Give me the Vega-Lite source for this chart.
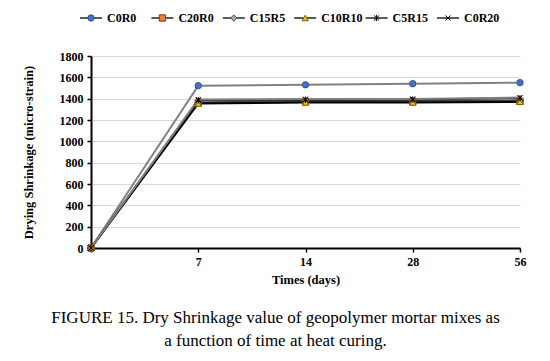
{
  "$schema": "https://vega.github.io/schema/vega-lite/v6.json",
  "padding": {"left": 22, "top": 12, "right": 5, "bottom": 5},
  "background": "white",
  "spacing": 26,
  "config": {
    "font": "Liberation Serif",
    "view": {"stroke": null},
    "axis": {
      "labelFont": "Liberation Serif",
      "titleFont": "Liberation Serif",
      "labelFontWeight": "bold",
      "titleFontWeight": "bold",
      "labelFontSize": 12,
      "titleFontSize": 12.5,
      "labelColor": "#000000",
      "titleColor": "#000000",
      "domainColor": "#000000",
      "tickColor": "#000000",
      "domainWidth": 2,
      "tickWidth": 1.5,
      "tickSize": 4
    }
  },
  "datasets": {
    "mixes": [
      {"mix": "C0R0"}, {"mix": "C20R0"}, {"mix": "C15R5"}, {"mix": "C10R10"}, {"mix": "C5R15"}, {"mix": "C0R20"}
    ],
    "shrink": [
      {"mix": "C0R0", "day": "0", "value": 0},
      {"mix": "C0R0", "day": "7", "value": 1522},
      {"mix": "C0R0", "day": "14", "value": 1530},
      {"mix": "C0R0", "day": "28", "value": 1540},
      {"mix": "C0R0", "day": "56", "value": 1550},
      {"mix": "C20R0", "day": "0", "value": 0},
      {"mix": "C20R0", "day": "7", "value": 1360},
      {"mix": "C20R0", "day": "14", "value": 1370},
      {"mix": "C20R0", "day": "28", "value": 1370},
      {"mix": "C20R0", "day": "56", "value": 1375},
      {"mix": "C15R5", "day": "0", "value": 0},
      {"mix": "C15R5", "day": "7", "value": 1365},
      {"mix": "C15R5", "day": "14", "value": 1378},
      {"mix": "C15R5", "day": "28", "value": 1378},
      {"mix": "C15R5", "day": "56", "value": 1382},
      {"mix": "C10R10", "day": "0", "value": 0},
      {"mix": "C10R10", "day": "7", "value": 1355},
      {"mix": "C10R10", "day": "14", "value": 1365},
      {"mix": "C10R10", "day": "28", "value": 1365},
      {"mix": "C10R10", "day": "56", "value": 1370},
      {"mix": "C5R15", "day": "0", "value": 0},
      {"mix": "C5R15", "day": "7", "value": 1385},
      {"mix": "C5R15", "day": "14", "value": 1390},
      {"mix": "C5R15", "day": "28", "value": 1392},
      {"mix": "C5R15", "day": "56", "value": 1405},
      {"mix": "C0R20", "day": "0", "value": 0},
      {"mix": "C0R20", "day": "7", "value": 1392},
      {"mix": "C0R20", "day": "14", "value": 1396},
      {"mix": "C0R20", "day": "28", "value": 1398},
      {"mix": "C0R20", "day": "56", "value": 1410}
    ]
  },
  "vconcat": [
    {
      "width": 357,
      "height": 12,
      "data": {"name": "mixes"},
      "encoding": {
        "x": {
          "field": "mix",
          "type": "nominal",
          "sort": ["C0R0", "C20R0", "C15R5", "C10R10", "C5R15", "C0R20"],
          "scale": {"type": "point", "padding": 0},
          "axis": null
        }
      },
      "layer": [
        {
          "mark": {"type": "point", "shape": "M-1,0L1,0", "size": 484, "stroke": "#000000", "strokeWidth": 1.3, "filled": false, "opacity": 1}
        },
        {
          "mark": {"type": "point", "filled": true, "size": 40, "strokeWidth": 1, "opacity": 1},
          "encoding": {
            "shape": {
              "field": "mix",
              "type": "nominal",
              "legend": null,
              "scale": {
                "domain": ["C0R0", "C20R0", "C15R5", "C10R10", "C5R15", "C0R20"],
                "range": ["circle", "square", "diamond", "triangle-up", "M-0.8,-0.8L0.8,0.8M-0.8,0.8L0.8,-0.8M0,-1L0,1", "M-0.8,-0.8L0.8,0.8M-0.8,0.8L0.8,-0.8"]
              }
            },
            "fill": {
              "field": "mix",
              "type": "nominal",
              "legend": null,
              "scale": {
                "domain": ["C0R0", "C20R0", "C15R5", "C10R10", "C5R15", "C0R20"],
                "range": ["#4472c4", "#ed7d31", "#a5a5a5", "#ffc000", "#000000", "#000000"]
              }
            },
            "stroke": {
              "field": "mix",
              "type": "nominal",
              "legend": null,
              "scale": {
                "domain": ["C0R0", "C20R0", "C15R5", "C10R10", "C5R15", "C0R20"],
                "range": ["#2f528f", "#843c0c", "#595959", "#7f6000", "#000000", "#000000"]
              }
            }
          }
        },
        {
          "mark": {"type": "text", "align": "left", "baseline": "middle", "dx": 16, "font": "Liberation Serif", "fontWeight": "bold", "fontSize": 12, "color": "#000000"},
          "encoding": {"text": {"field": "mix", "type": "nominal"}}
        }
      ]
    },
    {
      "width": 429,
      "height": 192,
      "title": {
        "text": ["FIGURE 15. Dry Shrinkage value of geopolymer mortar mixes as", "a function of time at heat curing."],
        "orient": "bottom",
        "anchor": "middle",
        "font": "Liberation Serif",
        "fontSize": 17,
        "fontWeight": "normal",
        "color": "#000000",
        "lineHeight": 23,
        "offset": 24,
        "dx": -30
      },
      "data": {"name": "shrink"},
      "encoding": {
        "x": {
          "field": "day",
          "type": "ordinal",
          "sort": ["0", "7", "14", "28", "56"],
          "scale": {"type": "point", "padding": 0},
          "axis": {
            "title": "Times (days)",
            "labelAngle": 0,
            "labelExpr": "datum.label == '0' ? '' : datum.label",
            "labelPadding": 4,
            "titlePadding": 6,
            "grid": false
          }
        },
        "y": {
          "field": "value",
          "type": "quantitative",
          "scale": {"domain": [0, 1800], "nice": false},
          "axis": {
            "title": "Drying Shrinkage (micro-strain)",
            "values": [0, 200, 400, 600, 800, 1000, 1200, 1400, 1600, 1800],
            "format": "d",
            "grid": true,
            "gridColor": "#d9d9d9",
            "gridWidth": 1,
            "labelPadding": 4,
            "titlePadding": 24
          }
        }
      },
      "layer": [
        {
          "mark": {"type": "line", "strokeWidth": 2},
          "encoding": {
            "color": {
              "field": "mix",
              "type": "nominal",
              "legend": null,
              "scale": {
                "domain": ["C0R0", "C20R0", "C15R5", "C10R10", "C5R15", "C0R20"],
                "range": ["#808080", "#595959", "#404040", "#000000", "#262626", "#7f7f7f"]
              }
            }
          }
        },
        {
          "mark": {"type": "point", "filled": true, "size": 40, "strokeWidth": 1, "opacity": 1},
          "encoding": {
            "shape": {
              "field": "mix",
              "type": "nominal",
              "legend": null,
              "scale": {
                "domain": ["C0R0", "C20R0", "C15R5", "C10R10", "C5R15", "C0R20"],
                "range": ["circle", "square", "diamond", "triangle-up", "M-0.8,-0.8L0.8,0.8M-0.8,0.8L0.8,-0.8M0,-1L0,1", "M-0.8,-0.8L0.8,0.8M-0.8,0.8L0.8,-0.8"]
              }
            },
            "fill": {
              "field": "mix",
              "type": "nominal",
              "legend": null,
              "scale": {
                "domain": ["C0R0", "C20R0", "C15R5", "C10R10", "C5R15", "C0R20"],
                "range": ["#4472c4", "#ed7d31", "#a5a5a5", "#ffc000", "#000000", "#000000"]
              }
            },
            "stroke": {
              "field": "mix",
              "type": "nominal",
              "legend": null,
              "scale": {
                "domain": ["C0R0", "C20R0", "C15R5", "C10R10", "C5R15", "C0R20"],
                "range": ["#2f528f", "#843c0c", "#595959", "#7f6000", "#000000", "#000000"]
              }
            }
          }
        }
      ]
    }
  ]
}
